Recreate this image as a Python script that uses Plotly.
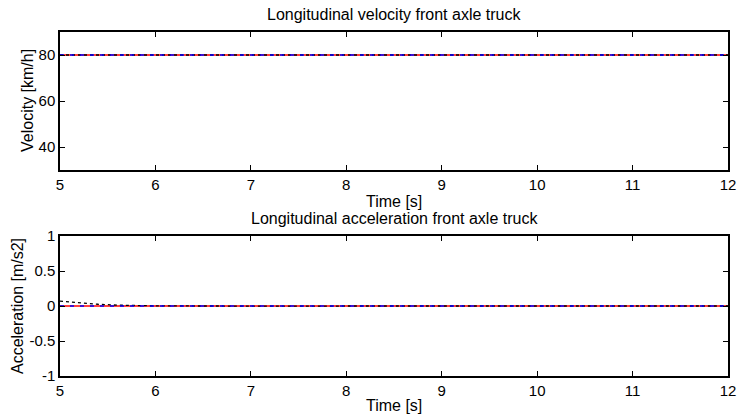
import plotly.graph_objects as go

# ---- data ----
t_vel = [5, 6, 7, 8, 9, 10, 11, 12]
vel_ref = [80, 80, 80, 80, 80, 80, 80, 80]
vel_meas = [80, 80, 80, 80, 80, 80, 80, 80]
vel_model = [80, 80, 80, 80, 80, 80, 80, 80]

t_acc = [5, 5.2, 5.4, 5.6, 5.8, 6, 6.5, 7, 7.3, 7.6, 8, 9, 10, 11, 12]
acc_ref = [0, 0, 0, 0, 0, 0, 0, 0, 0, 0, 0, 0, 0, 0, 0]
acc_meas = [0, 0, 0, 0, 0, 0, 0, 0, 0, 0, 0, 0, 0, 0, 0]
acc_model = [0.07, 0.045, 0.025, 0.012, 0.005, 0.002, 0, -0.003, -0.008, -0.002, 0, 0, 0, 0, 0]

xticks = [5, 6, 7, 8, 9, 10, 11, 12]
vel_ticks = [40, 60, 80]
acc_ticks = [-1, -0.5, 0, 0.5, 1]

FONT = "Liberation Sans, Arial, sans-serif"
W, H = 738, 419

fig = go.Figure()
fig.add_trace(go.Scatter(x=t_vel, y=vel_ref, mode="lines", line=dict(color="red", width=1.3), xaxis="x", yaxis="y"))
fig.add_trace(go.Scatter(x=t_vel, y=vel_model, mode="lines", line=dict(color="black", width=1.3, dash="dot"), xaxis="x", yaxis="y"))
fig.add_trace(go.Scatter(x=t_vel, y=vel_meas, mode="lines", line=dict(color="blue", width=1.3, dash="4px,6px"), xaxis="x", yaxis="y"))

fig.add_trace(go.Scatter(x=t_acc, y=acc_ref, mode="lines", line=dict(color="red", width=1.3), xaxis="x2", yaxis="y2"))
fig.add_trace(go.Scatter(x=t_acc, y=acc_model, mode="lines", line=dict(color="black", width=1.3, dash="dot"), xaxis="x2", yaxis="y2"))
fig.add_trace(go.Scatter(x=t_acc, y=acc_meas, mode="lines", line=dict(color="blue", width=1.3, dash="4px,6px"), xaxis="x2", yaxis="y2"))

axis_common = dict(
    showgrid=False, zeroline=False, showline=True, linecolor="black", linewidth=1.5,
    mirror="ticks", ticks="inside", ticklen=5, tickwidth=1.2, tickcolor="black",
    tickfont=dict(family=FONT, size=15, color="black"), automargin=False,
)

xdom = [60 / W, 728 / W]
xc = 0.5 * (xdom[0] + xdom[1])


def ann(text, x_px, y_px, size=16, angle=0):
    return dict(text=text, x=x_px / W if x_px is not None else xc, y=1 - y_px / H,
                xref="paper", yref="paper", showarrow=False, textangle=angle,
                font=dict(family=FONT, size=size, color="black"),
                xanchor="center", yanchor="middle")


fig.update_layout(
    width=W, height=H,
    margin=dict(l=0, r=0, t=0, b=0, pad=0),
    paper_bgcolor="white", plot_bgcolor="white",
    showlegend=False,
    font=dict(family=FONT, color="black"),
    xaxis=dict(domain=xdom, range=[5, 12], tickvals=xticks, anchor="y", **axis_common),
    yaxis=dict(domain=[1 - 170 / H, 1 - 32 / H], range=[30, 90], tickvals=vel_ticks, anchor="x", **axis_common),
    xaxis2=dict(domain=xdom, range=[5, 12], tickvals=xticks, anchor="y2", **axis_common),
    yaxis2=dict(domain=[1 - 376 / H, 1 - 236 / H], range=[-1, 1], tickvals=acc_ticks,
                ticktext=["-1", "-0.5", "0", "0.5", "1"], anchor="x2", **axis_common),
    annotations=[
        ann("Longitudinal velocity front axle truck", None, 14.5),
        ann("Longitudinal acceleration front axle truck", None, 218.5),
        ann("Time [s]", None, 201),
        ann("Time [s]", None, 405),
        ann("Velocity [km/h]", 27, 101, 16, -90),
        ann("Acceleration [m/s2]", 17.5, 306.5, 16, -90),
    ],
)

fig.write_html("out.html")
